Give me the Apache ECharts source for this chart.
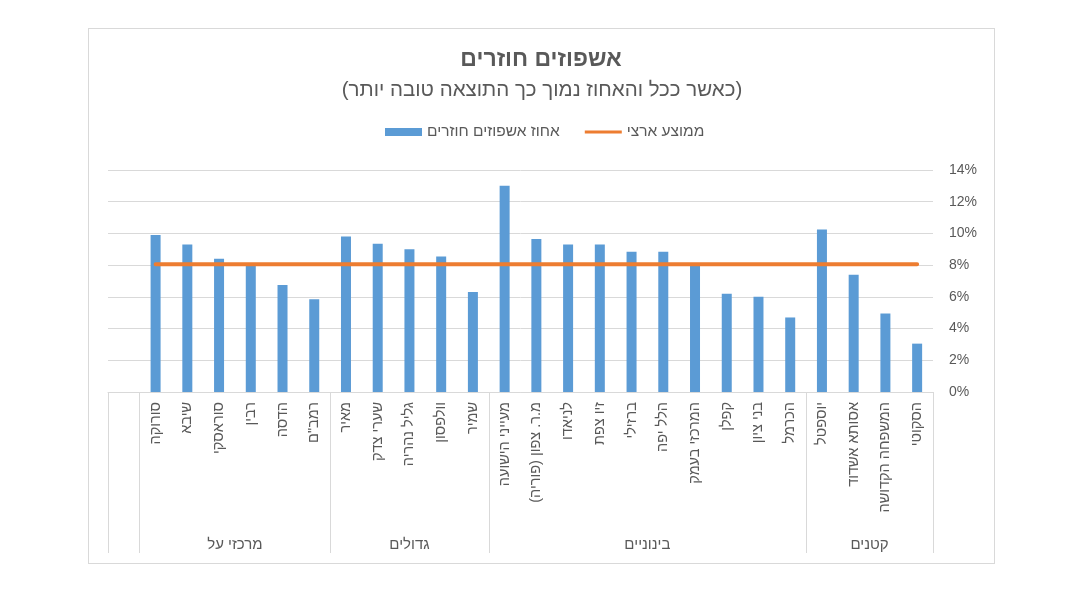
<!DOCTYPE html>
<html lang="he">
<head>
<meta charset="utf-8">
<script src="https://cdn.jsdelivr.net/npm/echarts@6/dist/echarts.min.js"></script>
<style>
  html, body { margin: 0; padding: 0; background: #fff; }
  #wrap { position: relative; width: 1068px; height: 600px; }
  #chart { position: absolute; left: 0; top: 0; width: 1068px; height: 600px; }
  #frame { position: absolute; left: 88px; top: 28px; width: 905px; height: 534px; border: 1px solid #d9d9d9; pointer-events: none; }
</style>
</head>
<body>
<div id="wrap">
  <div id="chart" dir="rtl"></div>
  <div id="frame"></div>
</div>
<script>
// ---- data ----
const titleText = 'אשפוזים חוזרים';
const subtitleText = '(כאשר ככל והאחוז נמוך כך התוצאה טובה יותר)';
const barName = 'אחוז אשפוזים חוזרים';
const lineName = 'ממוצע ארצי';

const groupNames = ['מרכזי על', 'גדולים', 'בינוניים', 'קטנים'];
const groupSizes = [6, 5, 10, 4];

const categories = [
  '',
  'סורוקה', 'שיבא', 'סוראסקי', 'רבין', 'הדסה', 'רמב"ם',
  'מאיר', 'שערי צדק', 'גליל נהריה', 'וולפסון', 'שמיר',
  'מעייני הישועה', 'מ.ר. צפון (פוריה)', 'לניאדו', 'זיו צפת', 'ברזילי', 'הלל יפה', 'המרכזי בעמק', 'קפלן', 'בני ציון', 'הכרמל',
  'יוספטל', 'אסותא אשדוד', 'המשפחה הקדושה', 'הסקוטי'
];

const readmissionPct = [
  '-',
  9.9, 9.3, 8.4, 8.0, 6.75, 5.85,
  9.8, 9.35, 9.0, 8.55, 6.3,
  13.0, 9.65, 9.3, 9.3, 8.85, 8.85, 8.0, 6.2, 6.0, 4.7,
  10.25, 7.4, 4.95, 3.05
];

const nationalAvg = [
  '-',
  8.05, 8.05, 8.05, 8.05, 8.05, 8.05,
  8.05, 8.05, 8.05, 8.05, 8.05,
  8.05, 8.05, 8.05, 8.05, 8.05, 8.05, 8.05, 8.05, 8.05, 8.05,
  8.05, 8.05, 8.05, 8.05
];

const yTicks = { min: 0, max: 14, interval: 2 };

// group boundaries & centers (in category units, after the leading empty slot)
const boundaries = [0, 1];
const centers = [];
let acc = 1;
groupSizes.forEach(s => { centers.push(acc + s / 2); acc += s; boundaries.push(acc); });
const nCat = categories.length;

const font = '"Liberation Sans", "DejaVu Sans", Arial, sans-serif';
const txt = '#595959';
const gridColor = '#d9d9d9';

const chart = echarts.init(document.getElementById('chart'));
chart.setOption({
  animation: false,
  textStyle: { fontFamily: font },
  title: [
    { text: titleText, left: 541, top: 48, textAlign: 'center', padding: 0,
      textStyle: { fontSize: 23, fontWeight: 'bold', color: txt, fontFamily: font } },
    { text: subtitleText, left: 542, top: 80, textAlign: 'center', padding: 0,
      textStyle: { fontSize: 20.5, fontWeight: 'normal', color: txt, fontFamily: font } }
  ],
  legend: {
    left: 385, top: 124, padding: 0,
    itemGap: 25, itemWidth: 37, itemHeight: 8,
    textStyle: { fontSize: 15.5, color: txt, fontFamily: font },
    data: [
      { name: barName, icon: 'rect' },
      { name: lineName, icon: 'path://M0,0h40v3H0z' }
    ]
  },
  grid: { left: 108, right: 135, top: 170, bottom: 208, containLabel: false },
  xAxis: [
    {
      type: 'category', data: categories, boundaryGap: true,
      axisLine: { show: true, lineStyle: { color: gridColor, width: 1 } },
      axisTick: { show: false },
      axisLabel: { rotate: 90, interval: 0, margin: 10, fontSize: 14.5, color: txt, fontFamily: font }
    },
    {
      type: 'value', min: 0, max: nCat, position: 'bottom', offset: 161,
      axisLine: { show: false },
      splitLine: { show: false },
      axisTick: { show: true, inside: true, length: 161, customValues: boundaries,
        lineStyle: { color: gridColor, width: 1 } },
      axisLabel: { show: true, inside: true, margin: 1, customValues: centers,
        fontSize: 15, color: txt, fontFamily: font,
        formatter: v => { const i = centers.indexOf(v); return i >= 0 ? groupNames[i] : ''; } }
    }
  ],
  yAxis: {
    type: 'value', position: 'right', min: yTicks.min, max: yTicks.max, interval: yTicks.interval,
    axisLine: { show: false }, axisTick: { show: false },
    splitLine: { lineStyle: { color: gridColor, width: 1 } },
    axisLabel: { formatter: '{value}%', margin: 16, align: 'left', fontSize: 14, color: txt, fontFamily: font }
  },
  series: [
    { name: barName, type: 'bar', data: readmissionPct, barWidth: 10,
      itemStyle: { color: '#5B9BD5' } },
    { name: lineName, type: 'line', data: nationalAvg, showSymbol: false, symbol: 'none',
      lineStyle: { color: '#ED7D31', width: 4, cap: 'round' }, itemStyle: { color: '#ED7D31' }, z: 3 }
  ]
});
</script>
</body>
</html>
